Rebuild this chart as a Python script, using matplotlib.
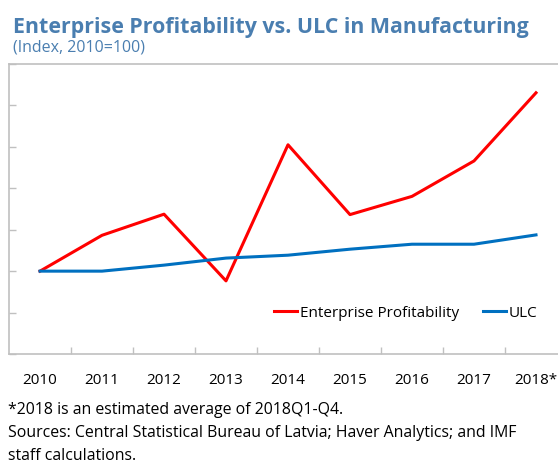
import matplotlib
matplotlib.use('Agg')
import matplotlib.pyplot as plt

plt.rcParams['font.family'] = ['Open Sans', 'DejaVu Sans']

years = ['2010', '2011', '2012', '2013', '2014', '2015', '2016', '2017', '2018*']
profit = [100, 117.3, 127.5, 95.3, 161, 127.3, 136.1, 153.2, 186.1]
ulc = [100, 100, 102.9, 106.3, 107.7, 110.6, 113, 113, 117.5]

blue_txt = '#4a7eb0'
grey = '#c0c0c0'

fig = plt.figure(figsize=(5.58, 4.63), dpi=100)
ax = fig.add_axes([9/558, 109/463, 558/558, 290/463])

x = list(range(len(years)))
ax.plot(x, profit, color='#ff0000', lw=2.2, label='Enterprise Profitability')
ax.plot(x, ulc, color='#0070c0', lw=2.2, label='ULC')

ax.set_xlim(-0.5, len(years) - 0.5)
ax.set_ylim(60, 200)

# y ticks: no labels, short inward marks
ax.set_yticks(range(60, 201, 20))
ax.set_yticklabels([])
ax.tick_params(axis='y', direction='in', length=5, color=grey, width=1)

# x labels at centres, tick marks between categories
ax.set_xticks(x)
ax.set_xticklabels(years, fontsize=11)
ax.set_xticks([i + 0.5 for i in x[:-1]], minor=True)
ax.tick_params(axis='x', which='major', length=0, pad=14)
ax.tick_params(axis='x', which='minor', direction='in', length=5, color=grey, width=1)

for s in ax.spines.values():
    s.set_color(grey)
    s.set_linewidth(1.2)

ax.legend(loc='center', bbox_to_anchor=(0.711, 0.141), ncol=2, frameon=False,
          fontsize=11, handlelength=1.5, handletextpad=0.15, columnspacing=1.6)

fig.text(13/558, 1 - 33/463, 'Enterprise Profitability vs. ULC in Manufacturing',
         fontsize=15.4, fontweight='bold', color=blue_txt, va='baseline')
fig.text(13/558, 1 - 52/463, '(Index, 2010=100)', fontsize=11.5,
         color=blue_txt, va='baseline')

notes = ['*2018 is an estimated average of 2018Q1-Q4.',
         'Sources: Central Statistical Bureau of Latvia; Haver Analytics; and IMF',
         'staff calculations.']
for i, t in enumerate(notes):
    fig.text(8/558, 1 - (414 + 23*i)/463, t, fontsize=11.4, va='baseline')

plt.savefig('out.png', dpi=100)
